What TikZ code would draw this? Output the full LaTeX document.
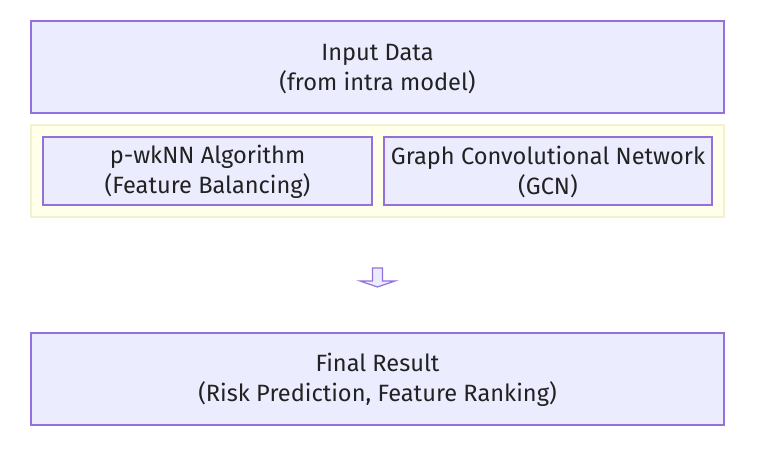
\documentclass[tikz,border=0pt]{standalone}
\usepackage{fontspec}
\setmainfont{Fira Sans}
\definecolor{boxfill}{HTML}{ECECFF}
\definecolor{boxline}{HTML}{9370DB}
\definecolor{groupfill}{HTML}{FFFFEA}
\definecolor{groupline}{HTML}{F2F2D2}
\definecolor{labeltext}{HTML}{222222}
\begin{document}
\begin{tikzpicture}[x=1pt, y=-1pt,
  box/.style={draw=boxline, fill=boxfill, line width=1.2pt, align=center,
    text=labeltext, font=\fontsize{23.6}{30}\selectfont, inner sep=0pt},
  group/.style={draw=groupline, fill=groupfill, line width=1.2pt, inner sep=0pt}]
\useasboundingbox[fill=white] (0,0) rectangle (764,468);

\node[box, minimum width=693pt, minimum height=92pt] (input) at (377.5,67)
  {\strut Input Data\\(from intra model)};

\node[group, minimum width=693pt, minimum height=92pt] (models) at (377.5,171) {};
\node[box, minimum width=329pt, minimum height=68pt] (pwknn) at (207.5,171)
  {\strut p-wkNN Algorithm\\(Feature Balancing)};
\node[box, minimum width=328pt, minimum height=68pt] (gcn) at (548,171)
  {\strut Graph Convolutional Network\\(GCN)};

\filldraw[fill=boxfill, draw=boxline, line width=1.2pt, line join=miter]
  (372.5,268) -- (382.5,268) -- (382.5,281) -- (395,281)
  -- (377.5,287) -- (360,281) -- (372.5,281) -- cycle;

\node[box, minimum width=693pt, minimum height=92pt] (result) at (377.5,379)
  {\strut Final Result\\(Risk Prediction, Feature Ranking)};
\end{tikzpicture}
\end{document}
